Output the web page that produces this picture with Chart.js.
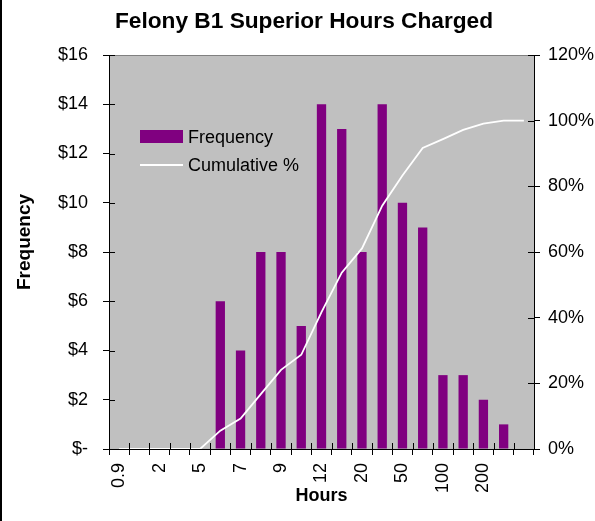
<!DOCTYPE html>
<html>
<head>
<meta charset="utf-8">
<title>Felony B1 Superior Hours Charged</title>
<script src="https://cdn.jsdelivr.net/npm/chart.js@4.4.0/dist/chart.umd.min.js"></script>
<style>
  html, body { margin: 0; padding: 0; background: #fff; }
  canvas { display: block; }
</style>
</head>
<body>
<canvas id="chart" width="595" height="521"></canvas>
<script>
// bins on the x axis (only every other one is labelled in the picture)
const hourBins = ["0.9", "1", "2", "3", "5", "6", "7", "8", "9", "10", "12", "15",
                  "20", "30", "50", "75", "100", "150", "200", "500", "More"];
const frequency = [0, 0, 0, 0, 0, 6, 4, 8, 8, 5, 14, 13, 8, 14, 10, 9, 3, 3, 2, 1, 0];
const cumulativePct = [0, 0, 0, 0, 0, 5.6, 9.3, 16.7, 24.1, 28.7, 41.7, 53.7, 61.1,
                       74.1, 83.3, 91.7, 94.4, 97.2, 99.1, 100, 100];

const FONT = 'Arial, "Liberation Sans", sans-serif';
Chart.defaults.font.family = FONT;
Chart.defaults.font.size = 18;
Chart.defaults.color = "#000";

const TICK = 6;

// grey plot area, frame, inner half of the cross ticks, titles
const excelLook = {
  id: "excelLook",
  beforeDraw(chart) {
    const { ctx, chartArea: a } = chart;
    ctx.save();
    ctx.fillStyle = "#c0c0c0";
    ctx.fillRect(a.left, a.top, a.right - a.left, a.bottom - a.top);
    ctx.strokeStyle = "#808080";
    ctx.lineWidth = 1;
    ctx.beginPath();
    ctx.moveTo(a.left, a.top + 0.5);
    ctx.lineTo(a.right, a.top + 0.5);
    ctx.stroke();
    // chart border, only the left edge shows
    ctx.fillStyle = "#000";
    ctx.fillRect(0, 0, 2, chart.height);
    ctx.restore();
  },
  afterDraw(chart) {
    const { ctx, chartArea: a, scales } = chart;
    ctx.save();
    ctx.strokeStyle = "#000";
    ctx.lineWidth = 1;
    ctx.beginPath();
    const x = scales.x;
    const n = x.ticks.length;
    for (let i = 0; i <= n; i++) {
      const px = Math.round(x.left + i * x.width / n) + 0.5;
      ctx.moveTo(px, a.bottom);
      ctx.lineTo(px, a.bottom - TICK);
    }
    for (const id of ["y", "y1"]) {
      const s = scales[id];
      const dir = id === "y" ? 1 : -1;
      const edge = id === "y" ? a.left : a.right;
      s.ticks.forEach(t => {
        const py = Math.round(s.getPixelForValue(t.value)) + 0.5;
        ctx.moveTo(edge, py);
        ctx.lineTo(edge + dir * TICK, py);
      });
    }
    ctx.stroke();

    ctx.fillStyle = "#000";
    ctx.textAlign = "center";
    ctx.textBaseline = "alphabetic";
    ctx.font = "bold 22.7px " + FONT;
    ctx.fillText("Felony B1 Superior Hours Charged", 304, 28);

    ctx.translate(25, 242);
    ctx.rotate(-Math.PI / 2);
    ctx.textBaseline = "middle";
    ctx.font = "bold 19px " + FONT;
    ctx.fillText("Frequency", 0, 0);
    ctx.restore();
  }
};

// legend sits inside the plot area
const legendInPlot = {
  id: "legendInPlot",
  afterDraw(chart) {
    const { ctx, chartArea: a } = chart;
    const x0 = a.left + 31;
    const rows = [a.top + 82, a.top + 110];
    ctx.save();
    ctx.font = "18px " + FONT;
    ctx.textBaseline = "middle";
    ctx.textAlign = "left";
    chart.data.datasets.forEach((ds, i) => {
      const y = rows[i];
      if (ds.type === "bar") {
        ctx.fillStyle = ds.backgroundColor;
        ctx.fillRect(x0, y - 7, 43, 13);
      } else {
        ctx.strokeStyle = ds.borderColor;
        ctx.lineWidth = 2;
        ctx.beginPath();
        ctx.moveTo(x0, y);
        ctx.lineTo(x0 + 43, y);
        ctx.stroke();
      }
      ctx.fillStyle = "#000";
      ctx.fillText(ds.label, x0 + 48, y + 1);
    });
    ctx.restore();
  }
};

new Chart(document.getElementById("chart"), {
  type: "bar",
  data: {
    labels: hourBins,
    datasets: [
      {
        type: "bar",
        label: "Frequency",
        data: frequency,
        backgroundColor: "#800080",
        yAxisID: "y",
        order: 2,
        barPercentage: 0.92,
        categoryPercentage: 0.5,
      },
      {
        type: "line",
        label: "Cumulative %",
        data: cumulativePct,
        borderColor: "#ffffff",
        borderWidth: 1.8,
        pointRadius: 0,
        tension: 0,
        fill: false,
        yAxisID: "y1",
        order: 1,
      },
    ],
  },
  options: {
    responsive: false,
    animation: false,
    layout: { padding: { top: 55, left: 0, right: 0, bottom: 0 } },
    plugins: {
      legend: { display: false },
      tooltip: { enabled: false },
      title: { display: false },
    },
    scales: {
      x: {
        grid: { drawOnChartArea: false, tickLength: TICK, color: "#000" },
        border: { display: true, color: "#000" },
        ticks: {
          autoSkip: false,
          minRotation: 90,
          maxRotation: 90,
          padding: 8,
          callback: (v, i) => (i % 2 === 0 && i < hourBins.length - 1 ? hourBins[i] : ""),
        },
        title: {
          display: true,
          text: "Hours",
          font: { size: 18, weight: "bold" },
          padding: { top: 0, bottom: 14 },
        },
        afterFit(s) { s.height = 72; },
      },
      y: {
        position: "left",
        min: 0,
        max: 16,
        ticks: { stepSize: 2, padding: 15, callback: v => (v === 0 ? "$-" : "$" + v) },
        grid: { drawOnChartArea: false, tickLength: TICK, color: "#000" },
        border: { color: "#000" },
        afterFit(s) { s.width = 109; },
      },
      y1: {
        position: "right",
        min: 0,
        max: 120,
        ticks: { stepSize: 20, padding: 8, callback: v => v + "%" },
        grid: { drawOnChartArea: false, tickLength: TICK, color: "#000" },
        border: { color: "#000" },
        afterFit(s) { s.width = 61; },
      },
    },
  },
  plugins: [excelLook, legendInPlot],
});
</script>
</body>
</html>
